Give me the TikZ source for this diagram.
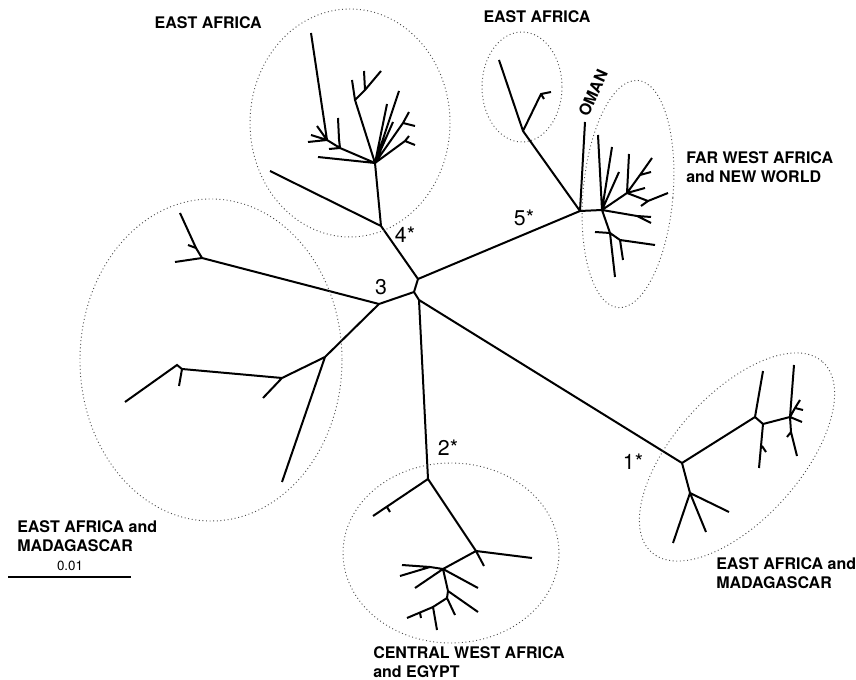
\documentclass[tikz,border=0pt]{standalone}
\usepackage{fontspec}
\setmainfont{TeX Gyre Heros}
\tikzset{
  branch/.style={line width=1.5pt},
  halo/.style={dotted, line width=0.7pt, black!70},
  region/.style={font=\bfseries\fontsize{12}{14.3}\selectfont, align=left, inner sep=0pt},
  clade/.style={font=\fontsize{16}{18}\selectfont, inner sep=0pt},
}
\begin{document}
\begin{tikzpicture}[x=0.75pt, y=-0.75pt]
\useasboundingbox (0,0) rectangle (856,680);

% centre of the tree
\coordinate (ca) at (418,279);
\coordinate (cb) at (414,292);
\coordinate (cc) at (419,300);
\coordinate (n1) at (682,463);
\coordinate (n2) at (428,479);
\coordinate (n3) at (379,304);
\coordinate (n4) at (381,226);
\coordinate (n5) at (580,211);
\draw[branch] (n4) -- (ca) -- (n5) (ca) -- (cb) -- (cc) (cb) -- (n3)
  (cc) -- (n2) (cc) -- (n1);

% clade 3 (east africa and madagascar, left)
\coordinate (u3) at (202,258);
\coordinate (u3a) at (175,262);
\coordinate (u3b) at (180,213);
\coordinate (u3c) at (196,248);
\coordinate (u3d) at (188,245);
\coordinate (v3) at (325,357);
\coordinate (v3a) at (282,482);
\coordinate (w3) at (282,378);
\coordinate (w3a) at (263,398);
\coordinate (x3) at (182,369);
\coordinate (x3a) at (179,386);
\coordinate (y3) at (177,365);
\coordinate (y3a) at (125,402);
\draw[branch] (n3) -- (u3) -- (u3a) (u3) -- (u3c) -- (u3b) (u3c) -- (u3d);
\draw[branch] (n3) -- (v3) -- (v3a) (v3) -- (w3) -- (w3a) (w3) -- (x3) -- (x3a)
  (x3) -- (y3) -- (y3a);

% clade 4 (east africa, top left)
\coordinate (c4) at (375,163);
\coordinate (l4) at (270,171);
\coordinate (c4a) at (318,157);
\coordinate (d4) at (340,148);
\coordinate (d4a) at (329,149);
\coordinate (d4b) at (339,139);
\coordinate (d4c) at (338,118);
\coordinate (f4) at (327,140);
\coordinate (f4a) at (311,33);
\coordinate (f4b) at (308,142);
\coordinate (f4c) at (311,135);
\coordinate (f4d) at (317,126);
\coordinate (g4) at (355,100);
\coordinate (g4a) at (352,80);
\coordinate (h4) at (365,90);
\coordinate (h4a) at (364,71);
\coordinate (h4b) at (381,71);
\coordinate (c4b) at (387,104);
\coordinate (c4c) at (399,91);
\coordinate (c4d) at (393,122);
\coordinate (i4) at (403,123);
\coordinate (i4a) at (409,112);
\coordinate (i4b) at (415,126);
\coordinate (j4) at (405,141);
\coordinate (j4a) at (409,136);
\coordinate (j4b) at (415,145);
\draw[branch] (n4) -- (l4) (n4) -- (c4) -- (c4a) (c4) -- (d4) -- (d4a)
  (d4) -- (d4b) -- (d4c) (d4) -- (f4) -- (f4a) (f4) -- (f4b) (f4) -- (f4c) (f4) -- (f4d);
\draw[branch] (c4) -- (g4) -- (g4a) (g4) -- (h4) -- (h4a) (h4) -- (h4b);
\draw[branch] (c4) -- (c4b) (c4) -- (c4c) (c4) -- (c4d) (c4) -- (i4) -- (i4a) (i4) -- (i4b)
  (c4) -- (j4) -- (j4a) (j4) -- (j4b);

% clade 5 (east africa, oman, far west africa and new world)
\coordinate (e5) at (523,131);
\coordinate (e5a) at (499,60);
\coordinate (e5b) at (541,94);
\coordinate (e5c) at (551,92);
\coordinate (e5d) at (544,99);
\coordinate (oman) at (585,122);
\coordinate (f5) at (602,210);
\coordinate (f5a) at (598,135);
\coordinate (f5b) at (612,147);
\coordinate (f5c) at (619,172);
\coordinate (g5) at (627,193);
\coordinate (g5a) at (629,154);
\coordinate (h5) at (640,175);
\coordinate (h5a) at (652,158);
\coordinate (h5b) at (651,172);
\coordinate (g5b) at (645,188);
\coordinate (j5) at (648,201);
\coordinate (j5a) at (668,193);
\coordinate (j5b) at (641,206);
\coordinate (k5) at (637,216);
\coordinate (k5a) at (651,217);
\coordinate (k5b) at (651,223);
\coordinate (l5) at (610,233);
\coordinate (l5a) at (615,277);
\coordinate (l5b) at (595,232);
\coordinate (m5) at (620,240);
\coordinate (m5a) at (655,245);
\coordinate (m5b) at (623,260);
\draw[branch] (n5) -- (e5) -- (e5a) (e5) -- (e5b) -- (e5c) (e5b) -- (e5d);
\draw[branch] (n5) -- (oman) (n5) -- (f5) -- (f5a) (f5) -- (f5b) (f5) -- (f5c)
  (f5) -- (g5) -- (g5a) (g5) -- (h5) -- (h5a) (h5) -- (h5b) (g5) -- (g5b)
  (g5) -- (j5) -- (j5a) (j5) -- (j5b);
\draw[branch] (f5) -- (k5) -- (k5a) (k5) -- (k5b) (f5) -- (l5) -- (l5a) (l5) -- (l5b)
  (l5) -- (m5) -- (m5a) (m5) -- (m5b);

% clade 2 (central west africa and egypt)
\coordinate (r2a) at (373,516);
\coordinate (r2b) at (387,507);
\coordinate (r2c) at (390,512);
\coordinate (p2) at (476,551);
\coordinate (p2a) at (532,558);
\coordinate (p2b) at (484,566);
\coordinate (q2) at (443,569);
\coordinate (q2b) at (430,567);
\coordinate (q2c) at (402,565);
\coordinate (q2d) at (400,576);
\coordinate (q2e) at (415,588);
\coordinate (q2f) at (478,588);
\coordinate (s2) at (448,591);
\coordinate (s2a) at (478,612);
\coordinate (t2) at (447,598);
\coordinate (t2a) at (455,615);
\coordinate (w2) at (433,607);
\coordinate (w2a) at (437,630);
\coordinate (w2b) at (407,618);
\coordinate (w2c) at (420,613);
\coordinate (w2d) at (421,618);
\draw[branch] (n2) -- (r2a) (r2b) -- (r2c) (n2) -- (p2) -- (p2a) (p2) -- (p2b) (p2) -- (q2);
\draw[branch] (q2) -- (q2b) -- (q2c) (q2b) -- (q2d) (q2) -- (q2e) (q2) -- (q2f)
  (q2) -- (s2) -- (s2a) (s2) -- (t2) -- (t2a) (t2) -- (w2) -- (w2a) (w2) -- (w2b) (w2c) -- (w2d);

% clade 1 (east africa and madagascar, right)
\coordinate (p1) at (690,493);
\coordinate (p1a) at (673,543);
\coordinate (p1b) at (706,532);
\coordinate (p1c) at (729,512);
\coordinate (q1) at (755,417);
\coordinate (q1a) at (763,371);
\coordinate (r1) at (763,424);
\coordinate (r1a) at (759,468);
\coordinate (r1b) at (762,446);
\coordinate (r1c) at (766,452);
\coordinate (s1) at (790,417);
\coordinate (s1a) at (794,365);
\coordinate (t1) at (795,408);
\coordinate (t1a) at (800,400);
\coordinate (t1b) at (803,410);
\coordinate (s1b) at (802,422);
\coordinate (u1) at (791,432);
\coordinate (u1a) at (787,437);
\coordinate (u1b) at (797,456);
\draw[branch] (n1) -- (p1) -- (p1a) (p1) -- (p1b) (p1) -- (p1c);
\draw[branch] (n1) -- (q1) -- (q1a) (q1) -- (r1) -- (r1a) (r1b) -- (r1c) (r1) -- (s1) -- (s1a)
  (s1) -- (t1) -- (t1a) (t1) -- (t1b) (s1) -- (s1b) (s1) -- (u1) -- (u1a) (u1) -- (u1b);

% dotted rings round the groups
\draw[halo] (350,123) ellipse [x radius=100, y radius=114];
\draw[halo] (211,360) ellipse [x radius=131, y radius=161];
\draw[halo] (522,87) ellipse [x radius=40, y radius=55];
\draw[halo, rotate around={-5:(628,194)}] (628,194) ellipse [x radius=45, y radius=114];
\draw[halo] (451,553) ellipse [x radius=108, y radius=90];
\draw[halo, rotate around={48:(737,457)}] (737,457) ellipse [x radius=128, y radius=63];

% clade numbers
\node[clade] (k1) at (633,462) {1*};
\node[clade] (k2) at (448,448) {2*};
\node[clade] (k3) at (381,287) {3};
\node[clade] (k4) at (405,235) {4*};
\node[clade] (k5) at (524,218) {5*};

% region names
\node[region, anchor=east] (t4) at (262,23) {EAST AFRICA};
\node[region] (t5a) at (537,17) {EAST AFRICA};
\node[region, rotate=66] (tom) at (593,93) {OMAN};
\node[region, anchor=west] (t5b) at (686,167) {FAR WEST AFRICA\\and NEW WORLD};
\node[region, anchor=west] (t3) at (17,536) {EAST AFRICA and\\MADAGASCAR};
\node[region, anchor=west] (t2) at (373,662) {CENTRAL WEST AFRICA\\and EGYPT};
\node[region, anchor=west] (t1) at (716,573) {EAST AFRICA and\\MADAGASCAR};

% scale bar
\coordinate (sb1) at (8,577);
\coordinate (sb2) at (131,577);
\draw[line width=1pt] (sb1) -- (sb2);
\node[font=\fontsize{10}{12}\selectfont, inner sep=0pt] (sbl) at (70,566) {0.01};
\end{tikzpicture}
\end{document}
